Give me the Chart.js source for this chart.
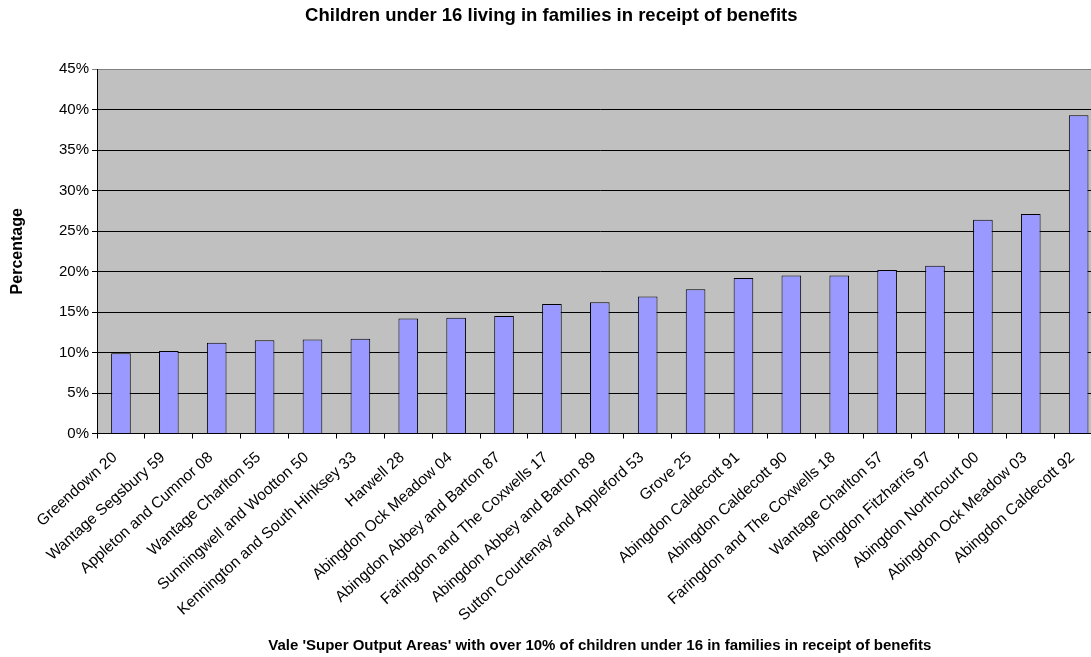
<!DOCTYPE html>
<html>
<head>
<meta charset="utf-8">
<script src="https://cdn.jsdelivr.net/npm/chart.js@4.4.1/dist/chart.umd.min.js"></script>
<style>
  html, body { margin: 0; padding: 0; background: #fff; overflow: hidden; }
  #wrap { position: relative; width: 1110px; height: 657px; }
</style>
</head>
<body>
<div id="wrap"><canvas id="chart"></canvas></div>
<script>
// Vale Super Output Areas (x categories)
const areas = [
  'Greendown 20', 'Wantage Segsbury 59', 'Appleton and Cumnor 08', 'Wantage Charlton 55',
  'Sunningwell and Wootton 50', 'Kennington and South Hinksey 33', 'Harwell 28',
  'Abingdon Ock Meadow 04', 'Abingdon Abbey and Barton 87', 'Faringdon and The Coxwells 17',
  'Abingdon Abbey and Barton 89', 'Sutton Courtenay and Appleford 53', 'Grove 25',
  'Abingdon Caldecott 91', 'Abingdon Caldecott 90', 'Faringdon and The Coxwells 18',
  'Wantage Charlton 57', 'Abingdon Fitzharris 97', 'Abingdon Northcourt 00',
  'Abingdon Ock Meadow 03', 'Abingdon Caldecott 92'
];

// % of children under 16 in families receiving benefits
const percentages = [
  9.9, 10.2, 11.2, 11.5, 11.6, 11.7, 14.2, 14.3, 14.5, 16.0, 16.2,
  16.9, 17.8, 19.2, 19.5, 19.5, 20.2, 20.7, 26.4, 27.1, 39.3
];

const yMin = 0;
const yMax = 45;
const yStep = 5;

const FONT = '"Liberation Sans", Arial, Helvetica, sans-serif';
Chart.defaults.font.family = FONT;
Chart.defaults.color = '#000';

// grey plot background like the old Excel charts
const plotBg = {
  id: 'plotBg',
  beforeDraw(chart) {
    const { ctx, chartArea: a } = chart;
    ctx.save();
    ctx.fillStyle = '#C0C0C0';
    ctx.fillRect(a.left, a.top, a.right - a.left, a.bottom - a.top);
    ctx.restore();
  }
};

new Chart(document.getElementById('chart'), {
  type: 'bar',
  data: {
    labels: areas,
    datasets: [{
      label: 'Percentage',
      data: percentages,
      backgroundColor: '#9999FF',
      borderColor: '#000',
      borderWidth: 1,
      categoryPercentage: 1,
      barPercentage: 0.41
    }]
  },
  options: {
    responsive: true,
    maintainAspectRatio: false,
    animation: false,
    devicePixelRatio: 1,
    // plot runs a little past the right edge of the window, as in the source
    layout: { padding: { left: 0, right: 7.4, top: 0, bottom: 0 } },
    plugins: {
      legend: { display: false },
      tooltip: { enabled: false },
      title: {
        display: true,
        text: 'Children under 16 living in families in receipt of benefits',
        font: { size: 18.5, weight: 'bold' },
        color: '#000',
        padding: { top: 4.4, bottom: 42.4 }
      }
    },
    scales: {
      x: {
        grid: {
          drawOnChartArea: false,
          drawTicks: true,
          tickLength: 5,
          color: '#000'
        },
        border: { color: '#000', width: 1 },
        ticks: {
          autoSkip: false,
          maxRotation: 42,
          minRotation: 42,
          padding: 10,
          labelOffset: -6,
          font: { size: 15.5 },
          color: '#000'
        },
        title: {
          display: true,
          text: "Vale 'Super Output Areas' with over 10% of children under 16 in families in receipt of benefits",
          font: { size: 15, weight: 'bold' },
          color: '#000',
          padding: { top: 0, bottom: 2 }
        },
        afterFit(scale) { scale.height = 223.5; }
      },
      y: {
        min: yMin,
        max: yMax,
        grid: {
          color: (c) => (c.tick && c.tick.value === yMax ? '#808080' : '#000'),
          tickLength: 5,
          drawTicks: true
        },
        border: { color: '#000', width: 1 },
        ticks: {
          stepSize: yStep,
          padding: 3,
          font: { size: 15 },
          color: '#000',
          callback: (v) => v + '%'
        },
        title: {
          display: true,
          text: 'Percentage',
          font: { size: 16, weight: 'bold' },
          color: '#000',
          padding: { top: 8, bottom: 0 }
        },
        afterFit(scale) { scale.width = 97; }
      }
    }
  },
  plugins: [plotBg]
});
</script>
</body>
</html>
